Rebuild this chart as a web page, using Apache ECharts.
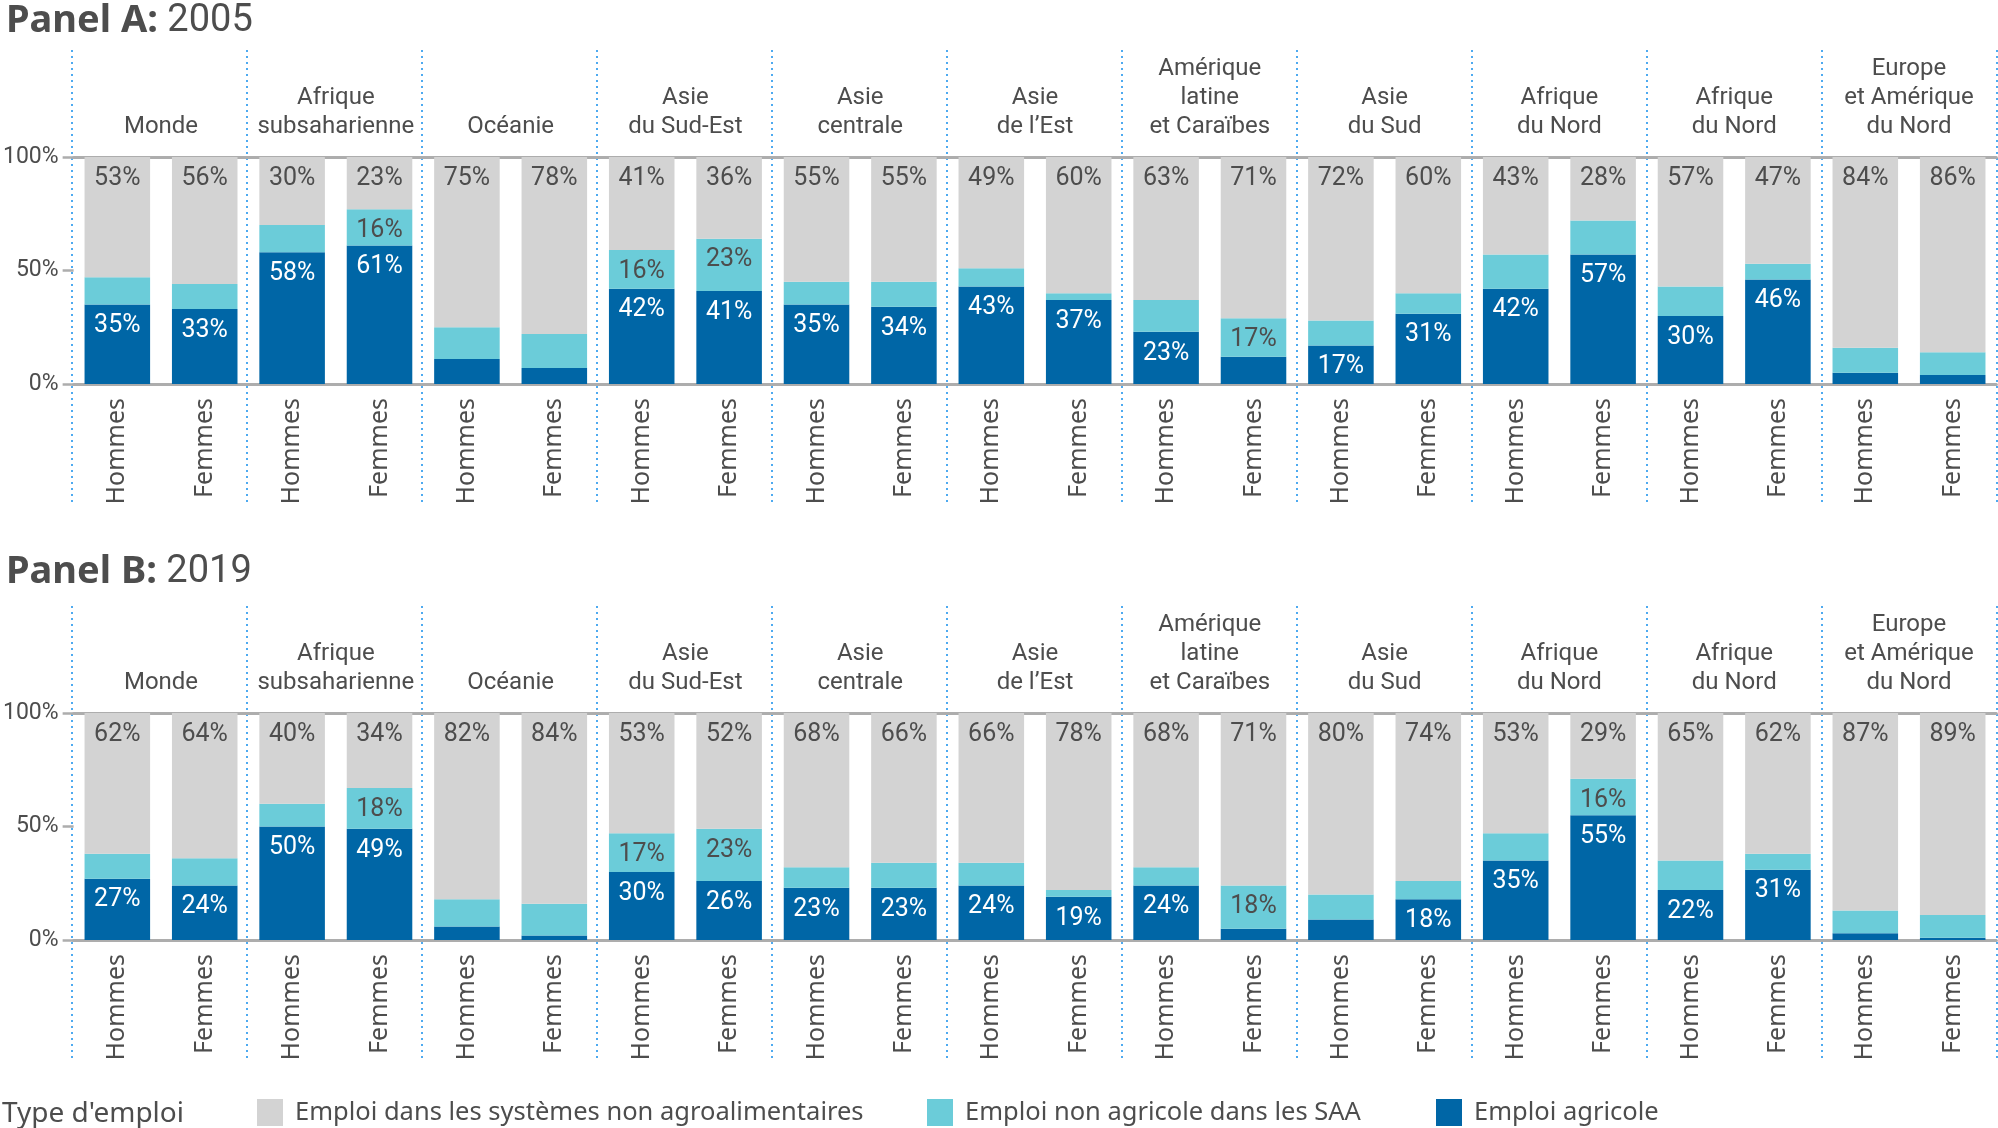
<!DOCTYPE html>
<html>
<head>
<meta charset="utf-8">
<script src="https://cdn.jsdelivr.net/npm/echarts@6/dist/echarts.min.js"></script>
<style>html,body{margin:0;padding:0;background:#fff}#c{width:1998px;height:1128px}</style>
</head>
<body>
<div id="c"></div>
<script>
// ---- data ----
const regions = ['Monde', 'Afrique\nsubsaharienne', 'Océanie', 'Asie\ndu Sud-Est', 'Asie\ncentrale', 'Asie\nde l’Est', 'Amérique\nlatine\net Caraïbes', 'Asie\ndu Sud', 'Afrique\ndu Nord', 'Afrique\ndu Nord', 'Europe\net Amérique\ndu Nord'];
const sexes = ['Hommes', 'Femmes'];
const seriesNames = ['Emploi agricole', 'Emploi non agricole dans les SAA', 'Emploi dans les systèmes non agroalimentaires'];
const yTicks = [0, 50, 100];

// Panel A: 2005 (bar heights, %), order: Monde H, Monde F, Afrique sub H, F, ...
const agriA    = [35, 33, 58, 61, 11, 7, 42, 41, 35, 34, 43, 37, 23, 12, 17, 31, 42, 57, 30, 46, 5, 4];
const saaA     = [12, 11, 12, 16, 14, 15, 17, 23, 10, 11, 8, 3, 14, 17, 11, 9, 15, 15, 13, 7, 11, 10];
const nonA     = [53, 56, 30, 23, 75, 78, 41, 36, 55, 55, 49, 60, 63, 71, 72, 60, 43, 28, 57, 47, 84, 86];
// printed labels (null = not printed)
const agriA_lbl = [35, 33, 58, 61, null, null, 42, 41, 35, 34, 43, 37, 23, null, 17, 31, 42, 57, 30, 46, null, null];
const saaA_lbl  = [null, null, null, 16, null, null, 16, 23, null, null, null, null, null, 17, null, null, null, null, null, null, null, null];
const nonA_lbl  = [53, 56, 30, 23, 75, 78, 41, 36, 55, 55, 49, 60, 63, 71, 72, 60, 43, 28, 57, 47, 84, 86];

// Panel B: 2019
const agriB    = [27, 24, 50, 49, 6, 2, 30, 26, 23, 23, 24, 19, 24, 5, 9, 18, 35, 55, 22, 31, 3, 1];
const saaB     = [11, 12, 10, 18, 12, 14, 17, 23, 9, 11, 10, 3, 8, 19, 11, 8, 12, 16, 13, 7, 10, 10];
const nonB     = [62, 64, 40, 33, 82, 84, 53, 51, 68, 66, 66, 78, 68, 76, 80, 74, 53, 29, 65, 62, 87, 89];
const agriB_lbl = [27, 24, 50, 49, null, null, 30, 26, 23, 23, 24, 19, 24, null, null, 18, 35, 55, 22, 31, null, null];
const saaB_lbl  = [null, null, null, 18, null, null, 17, 23, null, null, null, null, null, 18, null, null, null, 16, null, null, null, null];
const nonB_lbl  = [62, 64, 40, 34, 82, 84, 53, 52, 68, 66, 66, 78, 68, 71, 80, 74, 53, 29, 65, 62, 87, 89];

// ---- style ----
const NARROW = "Roboto, sans-serif";
const SANS = "'Noto Sans','Open Sans',sans-serif";
const TXT = '#4d4d4d';
const COLORS = ['#0066a6', '#6bccd9', '#d3d3d3'];
const AXIS = '#adadad';
const DOT = '#4eaaf0';

const cats = [];
regions.forEach((r, i) => sexes.forEach(s => cats.push(s + '#' + i)));

const panels = [
  {title: '2005', data: [agriA, saaA, nonA], lbl: [agriA_lbl, saaA_lbl, nonA_lbl], top: 157, frameTop: 50, titleTop: 2},
  {title: '2019', data: [agriB, saaB, nonB], lbl: [agriB_lbl, saaB_lbl, nonB_lbl], top: 713, frameTop: 606, titleTop: 553}
];

const grid = [], xAxis = [], yAxis = [], series = [], title = [];
const L = 71.4, R = 1.6;
panels.forEach((p, pi) => {
  const gData = grid.length;
  grid.push({left: L, right: R, top: p.top, height: 227});
  const gFrame = grid.length;
  grid.push({left: L, right: R, top: p.frameTop, height: 456});

  const xBottom = xAxis.length;
  xAxis.push({
    type: 'category', gridIndex: gData, data: cats, position: 'bottom',
    axisLine: {show: true, lineStyle: {color: AXIS, width: 3}},
    axisTick: {show: false},
    axisLabel: {interval: 0, rotate: 90, margin: 14, color: TXT, fontFamily: SANS, fontSize: 25,
      formatter: v => v.split('#')[0]}
  });
  xAxis.push({
    type: 'category', gridIndex: gData, data: regions, position: 'top',
    axisLine: {show: true, lineStyle: {color: AXIS, width: 3}},
    axisTick: {show: false},
    axisLabel: {interval: 0, margin: 16, color: TXT, fontFamily: NARROW, fontSize: 24, lineHeight: 29, align: 'center'}
  });
  xAxis.push({
    type: 'category', gridIndex: gFrame, data: regions,
    axisLine: {show: false}, axisTick: {show: false}, axisLabel: {show: false},
    splitLine: {show: true, interval: 0, lineStyle: {color: DOT, width: 2, type: [2, 4]}}
  });
  const yData = yAxis.length;
  yAxis.push({
    type: 'value', gridIndex: gData, min: yTicks[0], max: yTicks[yTicks.length - 1], interval: yTicks[1] - yTicks[0],
    axisLine: {show: false},
    axisTick: {show: true, length: 11, lineStyle: {color: AXIS, width: 2.5}},
    splitLine: {show: false},
    axisLabel: {margin: 15, color: TXT, fontFamily: NARROW, fontSize: 23, formatter: '{value}%'}
  });
  yAxis.push({type: 'value', gridIndex: gFrame, show: false, min: 0, max: 1, splitLine: {show: false}});

  p.data.forEach((vals, si) => {
    const lb = p.lbl[si];
    series.push({
      type: 'bar', name: seriesNames[si], stack: 'p' + pi,
      xAxisIndex: xBottom, yAxisIndex: yData,
      barCategoryGap: '25%',
      itemStyle: {color: COLORS[si]},
      label: {show: true, position: 'insideTop', distance: 9, fontFamily: NARROW, fontSize: 25,
        color: si === 0 ? '#ffffff' : TXT},
      emphasis: {disabled: true},
      data: vals.map((v, i) => ({value: v, label: {show: lb[i] != null, formatter: (lb[i] != null ? lb[i] : '') + '%'}}))
    });
  });

  title.push({
    text: '{b|Panel ' + (pi === 0 ? 'A' : 'B') + ':}{r| ' + p.title + '}',
    left: 6, top: p.titleTop, padding: 0,
    textStyle: {rich: {
      b: {fontFamily: SANS, fontWeight: 'bold', fontSize: 38, color: TXT},
      r: {fontFamily: NARROW, fontWeight: 'normal', fontSize: 38, color: TXT}
    }}
  });
});

title.push({text: "Type d'emploi", left: 2, top: 1100, padding: 0,
  textStyle: {fontFamily: SANS, fontWeight: 'normal', fontSize: 28, color: TXT}});

const legendX = [1436, 927, 257];
const legend = seriesNames.map((n, i) => ({
  data: [n], left: legendX[i], top: 1099, padding: 0, icon: 'rect',
  itemWidth: 26, itemHeight: 27, itemGap: 0, selectedMode: false,
  textStyle: {fontFamily: SANS, fontSize: 25.5, color: TXT, padding: [0, 0, 0, 7]}
}));

const chart = echarts.init(document.getElementById('c'), null, {renderer: 'canvas'});
chart.setOption({animation: false, title, legend, grid, xAxis, yAxis, series});
</script>
</body>
</html>
